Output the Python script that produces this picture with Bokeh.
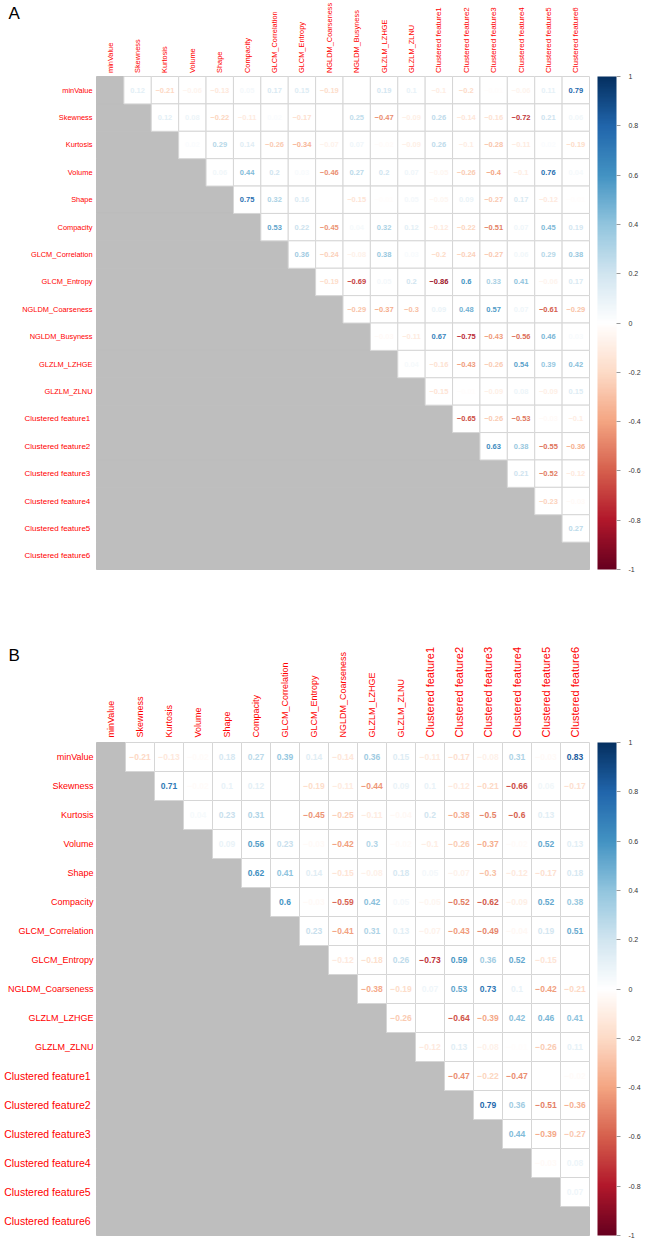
import numpy as np
from bokeh.plotting import figure
from bokeh.models import (Range1d, ColorBar, LinearColorMapper,
                          FixedTicker, CustomJSTickFormatter, Label)
from bokeh.layouts import column
from bokeh.embed import file_html
from bokeh.resources import INLINE
from bokeh.core.properties import value

# ---------------- data ----------------
VARS_A = ["minValue", "Skewness", "Kurtosis", "Volume", "Shape", "Compacity",
          "GLCM_Correlation", "GLCM_Entropy", "NGLDM_Coarseness", "NGLDM_Busyness",
          "GLZLM_LZHGE", "GLZLM_ZLNU",
          "Clustered  feature1", "Clustered  feature2", "Clustered  feature3",
          "Clustered  feature4", "Clustered  feature5", "Clustered  feature6"]

VARS_B = ["minValue", "Skewness", "Kurtosis", "Volume", "Shape", "Compacity",
          "GLCM_Correlation", "GLCM_Entropy", "NGLDM_Coarseness",
          "GLZLM_LZHGE", "GLZLM_ZLNU",
          "Clustered  feature1", "Clustered  feature2", "Clustered  feature3",
          "Clustered  feature4", "Clustered  feature5", "Clustered  feature6"]

# upper triangle, row by row (values right of the diagonal); None = blank cell
CORR_A = [
    [0.12, -0.21, -0.06, -0.13, 0.05, 0.17, 0.15, -0.19, None, 0.19, 0.1, -0.1, -0.2, -0.01, -0.06, 0.11, 0.79],
    [0.12, 0.08, -0.22, -0.11, 0.02, -0.17, None, 0.25, -0.47, -0.09, 0.26, -0.14, -0.16, -0.72, 0.21, 0.06],
    [0.02, 0.29, 0.14, -0.26, -0.34, -0.07, 0.07, -0.02, -0.09, 0.26, -0.1, -0.28, -0.11, 0.02, -0.19],
    [0.06, 0.44, 0.2, 0.03, -0.46, 0.27, 0.2, 0.07, -0.05, -0.26, -0.4, -0.1, 0.76, 0.04],
    [0.75, 0.32, 0.16, None, -0.15, -0.01, 0.05, -0.05, 0.09, -0.27, 0.17, -0.12, -0.01],
    [0.53, 0.22, -0.45, 0.04, 0.32, 0.12, -0.12, -0.22, -0.51, 0.07, 0.45, 0.19],
    [0.36, -0.24, -0.08, 0.38, 0.03, -0.2, -0.24, -0.27, 0.06, 0.29, 0.38],
    [-0.19, -0.69, 0.05, 0.2, -0.86, 0.6, 0.33, 0.41, -0.06, 0.17],
    [-0.29, -0.37, -0.3, 0.09, 0.48, 0.57, 0.07, -0.61, -0.29],
    [-0.03, -0.11, 0.67, -0.75, -0.43, -0.56, 0.46, 0.03],
    [0.04, -0.16, -0.43, -0.26, 0.54, 0.39, 0.42],
    [-0.15, -0.01, -0.09, 0.08, -0.09, 0.15],
    [-0.65, -0.26, -0.53, -0.03, -0.1],
    [0.63, 0.38, -0.55, -0.36],
    [0.21, -0.52, -0.12],
    [-0.23, -0.03],
    [0.27],
    [],
]

CORR_B = [
    [-0.21, -0.13, -0.02, 0.18, 0.27, 0.39, 0.14, -0.14, 0.36, 0.15, -0.11, -0.17, -0.08, 0.31, -0.03, 0.83],
    [0.71, -0.02, 0.1, 0.12, None, -0.19, -0.11, -0.44, 0.09, 0.1, -0.12, -0.21, -0.66, 0.06, -0.17],
    [0.04, 0.23, 0.31, None, -0.45, -0.25, -0.11, -0.04, 0.2, -0.38, -0.5, -0.6, 0.13, None],
    [0.09, 0.56, 0.23, -0.03, -0.42, 0.3, -0.02, -0.1, -0.26, -0.37, -0.02, 0.52, 0.13],
    [0.62, 0.41, 0.14, -0.15, -0.08, 0.18, 0.05, -0.07, -0.3, -0.12, -0.17, 0.18],
    [0.6, -0.03, -0.59, 0.42, 0.05, -0.05, -0.52, -0.62, -0.09, 0.52, 0.38],
    [0.23, -0.41, 0.31, 0.13, -0.07, -0.43, -0.49, -0.04, 0.19, 0.51],
    [-0.12, -0.18, 0.26, -0.73, 0.59, 0.36, 0.52, -0.15, None],
    [-0.38, -0.19, 0.07, 0.53, 0.73, 0.1, -0.42, -0.21],
    [-0.26, None, -0.64, -0.39, 0.42, 0.46, 0.41],
    [-0.12, 0.13, -0.08, -0.01, -0.26, 0.11],
    [-0.47, -0.22, -0.47, None, -0.02],
    [0.79, 0.36, -0.51, -0.36],
    [0.44, -0.39, -0.27],
    [-0.03, 0.08],
    [0.07],
    [],
]

COLORBAR_TICKS = [-1, -0.8, -0.6, -0.4, -0.2, 0, 0.2, 0.4, 0.6, 0.8, 1]

# ---------------- styling helpers ----------------
RDBU = ["#67001F", "#B2182B", "#D6604D", "#F4A582", "#FDDBC7", "#FFFFFF",
        "#D1E5F0", "#92C5DE", "#4393C3", "#2166AC", "#053061"]
_RGB = np.array([[int(h[i:i + 2], 16) for i in (1, 3, 5)] for h in RDBU], dtype=float)
_POS = np.linspace(-1, 1, len(RDBU))


def col_for(v):
    rgb = [np.interp(v, _POS, _RGB[:, k]) for k in range(3)]
    return "#%02x%02x%02x" % tuple(int(round(c)) for c in rgb)


PALETTE = [col_for(v) for v in np.linspace(-1, 1, 200)]


def fmt(v):
    s = f"{abs(v):.2f}".rstrip("0").rstrip(".")
    return ("\u2212" if v < 0 else "") + s


FONT = value("Liberation Sans")
W = 647
MAT_LEFT = 96
MAT_RIGHT = 589
GREY = "#BEBEBE"
LABEL_RED = "#FF0000"


def panel(vars_, corr, letter, fig_h, mat_top, mat_h, lab_sz, row_clu_sz, col_clu_sz,
          num_sz, letter_top, col_gap, row_gap):
    n = len(vars_)
    cw = (MAT_RIGHT - MAT_LEFT) / n
    ch = mat_h / n
    p = figure(width=W, height=fig_h, toolbar_location=None, output_backend="svg",
               x_range=Range1d(-MAT_LEFT / cw, (W - MAT_LEFT) / cw),
               y_range=Range1d((fig_h - mat_top) / ch, -mat_top / ch),
               min_border=0)
    p.axis.visible = False
    p.grid.visible = False
    p.outline_line_color = None
    p.background_fill_color = "white"
    p.border_fill_color = "white"

    # grey lower triangle incl. diagonal, one band per row
    rows = list(range(n))
    p.quad(left=[0] * n, right=[r + 1 for r in rows], top=rows, bottom=[r + 1 for r in rows],
           fill_color=GREY, line_color=GREY, line_width=1)

    wx, wy = [], []
    tx, ty, tt, tc = [], [], [], []
    for r in range(n):
        for c in range(r + 1, n):
            wx.append(c + 0.5); wy.append(r + 0.5)
            v = corr[r][c - r - 1]
            if v is not None:
                tx.append(c + 0.5); ty.append(r + 0.5)
                tt.append(fmt(v)); tc.append(col_for(v))
    p.rect(wx, wy, width=1, height=1, fill_color="white", line_color="#D6D6D6", line_width=1)
    p.text(tx, ty, text=tt, text_color=tc, text_font=FONT, text_font_style="bold",
           text_font_size=num_sz, text_align="center", text_baseline="middle")

    clustered = [v.startswith("Clustered") for v in vars_]
    row_sizes = [row_clu_sz if c else lab_sz for c in clustered]
    col_sizes = [col_clu_sz if c else lab_sz for c in clustered]
    # row labels
    p.text(x=[-row_gap / cw] * n, y=[i + 0.5 for i in rows], text=vars_,
           text_font_size=row_sizes, text_color=LABEL_RED, text_font=FONT,
           text_align="right", text_baseline="middle")
    # column labels
    p.text(x=[i + 0.5 for i in rows], y=[-col_gap / ch] * n, text=vars_,
           text_font_size=col_sizes, text_color=LABEL_RED, text_font=FONT,
           angle=np.pi / 2, text_align="left", text_baseline="middle")

    mapper = LinearColorMapper(palette=PALETTE, low=-1, high=1)
    cb = ColorBar(color_mapper=mapper, orientation="vertical",
                  location=(MAT_RIGHT + 8, fig_h - mat_top - mat_h),
                  width=19, height=int(round(mat_h)), padding=0,
                  ticker=FixedTicker(ticks=COLORBAR_TICKS),
                  formatter=CustomJSTickFormatter(code="return (Math.round(tick*10)/10).toString();"),
                  major_label_text_font_size="7px", major_label_text_color="#333333",
                  major_label_text_font="Liberation Sans",
                  major_tick_out=4, major_tick_in=0, major_tick_line_color="#9a9a9a",
                  minor_tick_out=0, label_standoff=8,
                  bar_line_color=None, border_line_color=None,
                  background_fill_alpha=0)
    p.add_layout(cb)

    p.add_layout(Label(x=8, y=fig_h - letter_top, x_units="screen", y_units="screen",
                       text=letter, text_font="Liberation Sans", text_font_size="17px",
                       text_color="black", text_baseline="top"))
    return p


pa = panel(VARS_A, CORR_A, "A", 608, 76, 493, "7.4px", "8px", "8px", "7.5px", 3, 3.5, 4)
pb = panel(VARS_B, CORR_B, "B", 632, 134, 493, "9px", "10.5px", "11px", "8.5px", 37, 5, 3)

layout = column(pa, pb, spacing=0)
open("out.html", "w").write(file_html(layout, INLINE))
